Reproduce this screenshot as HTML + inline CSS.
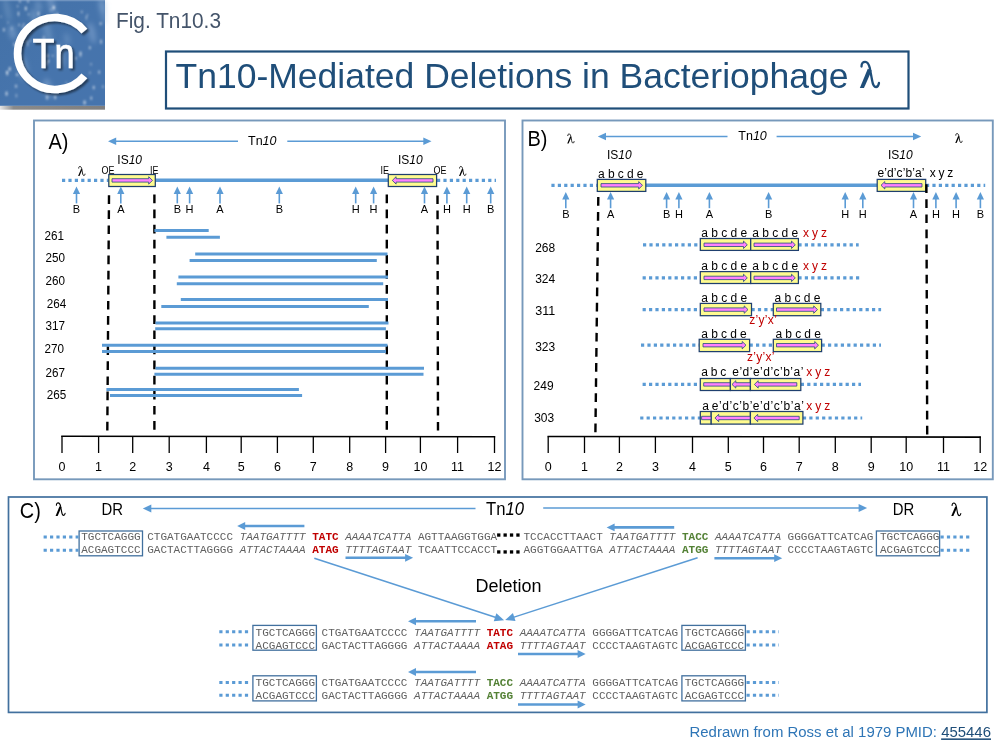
<!DOCTYPE html>
<html><head><meta charset="utf-8"><style>
html,body{margin:0;padding:0;background:#fff;width:1000px;height:750px;overflow:hidden}
svg{display:block;will-change:transform}
</style></head><body>
<svg width="1000" height="750" viewBox="0 0 1000 750">
<rect x="0" y="0" width="1000" height="750" fill="#fff"/>
<defs>
<linearGradient id="lg" x1="0" y1="0" x2="1" y2="1">
<stop offset="0" stop-color="#4371a7"/><stop offset="0.5" stop-color="#4674ac"/><stop offset="1" stop-color="#4674ad"/>
</linearGradient>
<filter id="sh" x="-20%" y="-20%" width="140%" height="140%"><feGaussianBlur in="SourceAlpha" stdDeviation="1.2"/><feOffset dx="1.5" dy="1.5"/><feComponentTransfer><feFuncA type="linear" slope="0.5"/></feComponentTransfer><feMerge><feMergeNode/><feMergeNode in="SourceGraphic"/></feMerge></filter>
</defs>
<linearGradient id="gb" x1="0" y1="0" x2="1" y2="0"><stop offset="0" stop-color="#e6e6e6"/><stop offset="0.13" stop-color="#8a8a8a"/><stop offset="1" stop-color="#7f7f7f"/></linearGradient>
<filter id="bl" x="-50%" y="-50%" width="200%" height="200%"><feGaussianBlur stdDeviation="0.9"/></filter>
<filter id="bl2" x="-50%" y="-50%" width="200%" height="200%"><feGaussianBlur stdDeviation="2.5"/></filter>
<rect x="0" y="105.6" width="105" height="4.1" fill="url(#gb)"/>
<rect x="0" y="0" width="105" height="105.8" fill="url(#lg)"/>
<rect x="0" y="0" width="105" height="1.3" fill="#6f93bf"/>
<g filter="url(#bl2)">
<ellipse cx="34" cy="15.84" rx="3.3" ry="6.58" fill="#9fbde0" opacity="0.38" transform="rotate(-12 34 15.84)"/>
<ellipse cx="38.4" cy="6.09" rx="3.01" ry="6.3" fill="#9fbde0" opacity="0.36" transform="rotate(-12 38.4 6.09)"/>
<ellipse cx="7.33" cy="9.52" rx="2.85" ry="12.61" fill="#9fbde0" opacity="0.28" transform="rotate(-12 7.33 9.52)"/>
<ellipse cx="23.44" cy="65.88" rx="3.9" ry="10.62" fill="#9fbde0" opacity="0.35" transform="rotate(-12 23.44 65.88)"/>
<ellipse cx="102.51" cy="4.89" rx="3.72" ry="8.32" fill="#9fbde0" opacity="0.29" transform="rotate(-12 102.51 4.89)"/>
<ellipse cx="12.37" cy="32.39" rx="3.63" ry="7.45" fill="#9fbde0" opacity="0.4" transform="rotate(-12 12.37 32.39)"/>
<ellipse cx="67.09" cy="39.1" rx="3.1" ry="6.5" fill="#9fbde0" opacity="0.26" transform="rotate(-12 67.09 39.1)"/>
<ellipse cx="21.63" cy="71.44" rx="2.86" ry="8.51" fill="#9fbde0" opacity="0.4" transform="rotate(-12 21.63 71.44)"/>
<ellipse cx="47.58" cy="31.48" rx="3.59" ry="11.59" fill="#9fbde0" opacity="0.31" transform="rotate(-12 47.58 31.48)"/>
<ellipse cx="60.31" cy="55.15" rx="3.75" ry="11.84" fill="#9fbde0" opacity="0.32" transform="rotate(-12 60.31 55.15)"/>
<ellipse cx="102.92" cy="12.4" rx="2.84" ry="12.06" fill="#9fbde0" opacity="0.29" transform="rotate(-12 102.92 12.4)"/>
<ellipse cx="51.34" cy="4.12" rx="3.34" ry="12.12" fill="#9fbde0" opacity="0.39" transform="rotate(-12 51.34 4.12)"/>
<ellipse cx="91.93" cy="32.94" rx="3.39" ry="10.75" fill="#9fbde0" opacity="0.39" transform="rotate(-12 91.93 32.94)"/>
<ellipse cx="47.9" cy="88.2" rx="3.89" ry="9.79" fill="#9fbde0" opacity="0.42" transform="rotate(-12 47.9 88.2)"/>
</g><g filter="url(#bl)">
<ellipse cx="7.25" cy="73.25" rx="0.99" ry="2.49" fill="#ffffff" opacity="0.63"/>
<ellipse cx="30.31" cy="40.74" rx="1" ry="1.03" fill="#ffffff" opacity="0.48"/>
<ellipse cx="18.31" cy="13.06" rx="0.64" ry="2.15" fill="#ffffff" opacity="0.35"/>
<ellipse cx="26.5" cy="41.27" rx="1.12" ry="1.12" fill="#ffffff" opacity="0.48"/>
<ellipse cx="57.59" cy="91.99" rx="1.09" ry="2.3" fill="#ffffff" opacity="0.41"/>
<ellipse cx="43.78" cy="37.95" rx="1.13" ry="2.44" fill="#ffffff" opacity="0.36"/>
<ellipse cx="19.15" cy="24.89" rx="0.74" ry="1.73" fill="#ffffff" opacity="0.54"/>
<ellipse cx="28.06" cy="1.42" rx="0.85" ry="1.55" fill="#ffffff" opacity="0.53"/>
<ellipse cx="99.17" cy="72.12" rx="0.91" ry="1.93" fill="#ffffff" opacity="0.57"/>
<ellipse cx="6.56" cy="93.65" rx="1.07" ry="2.31" fill="#ffffff" opacity="0.62"/>
<ellipse cx="41.42" cy="42.09" rx="0.66" ry="1.95" fill="#ffffff" opacity="0.32"/>
<ellipse cx="7.94" cy="22.5" rx="0.7" ry="1.51" fill="#ffffff" opacity="0.32"/>
<ellipse cx="1.02" cy="16.58" rx="0.66" ry="1.55" fill="#ffffff" opacity="0.31"/>
<ellipse cx="91.06" cy="64.25" rx="0.69" ry="1.38" fill="#ffffff" opacity="0.44"/>
<ellipse cx="38.51" cy="13.65" rx="1.11" ry="2.49" fill="#ffffff" opacity="0.49"/>
<ellipse cx="50.83" cy="9.85" rx="0.66" ry="1.51" fill="#ffffff" opacity="0.41"/>
<ellipse cx="86.37" cy="17.63" rx="0.61" ry="2.43" fill="#ffffff" opacity="0.51"/>
<ellipse cx="16.1" cy="56.95" rx="0.62" ry="1.79" fill="#ffffff" opacity="0.69"/>
<ellipse cx="89.92" cy="72.71" rx="0.76" ry="1.55" fill="#ffffff" opacity="0.37"/>
<ellipse cx="80.51" cy="55.86" rx="1.07" ry="1.49" fill="#ffffff" opacity="0.39"/>
<ellipse cx="84.59" cy="102.45" rx="1.11" ry="2.21" fill="#ffffff" opacity="0.63"/>
<ellipse cx="77.21" cy="24.35" rx="0.91" ry="1.53" fill="#ffffff" opacity="0.31"/>
<ellipse cx="3.88" cy="29.78" rx="0.76" ry="2.04" fill="#ffffff" opacity="0.68"/>
<ellipse cx="47.06" cy="97.51" rx="1.19" ry="2.43" fill="#ffffff" opacity="0.45"/>
<ellipse cx="23.71" cy="24.37" rx="0.72" ry="1.31" fill="#ffffff" opacity="0.55"/>
<ellipse cx="93.73" cy="87.56" rx="0.89" ry="1.98" fill="#ffffff" opacity="0.62"/>
<ellipse cx="9.73" cy="69.04" rx="1.15" ry="2.17" fill="#ffffff" opacity="0.6"/>
<ellipse cx="50.24" cy="19.39" rx="1.07" ry="1.5" fill="#ffffff" opacity="0.62"/>
<ellipse cx="101.08" cy="41.77" rx="0.84" ry="2.42" fill="#ffffff" opacity="0.59"/>
<ellipse cx="18.51" cy="14.08" rx="0.69" ry="2.36" fill="#ffffff" opacity="0.62"/>
<ellipse cx="16.06" cy="86.13" rx="1.19" ry="1.99" fill="#ffffff" opacity="0.44"/>
<ellipse cx="57.51" cy="14.49" rx="0.61" ry="2.46" fill="#ffffff" opacity="0.56"/>
<ellipse cx="55.24" cy="97.16" rx="0.86" ry="2.31" fill="#ffffff" opacity="0.63"/>
<ellipse cx="22.74" cy="26.94" rx="0.78" ry="1.36" fill="#ffffff" opacity="0.53"/>
<ellipse cx="27.71" cy="44.16" rx="0.68" ry="2.37" fill="#ffffff" opacity="0.44"/>
<ellipse cx="48.19" cy="61.08" rx="1.14" ry="1.63" fill="#ffffff" opacity="0.67"/>
<ellipse cx="52.67" cy="55.78" rx="0.91" ry="1.03" fill="#ffffff" opacity="0.48"/>
<ellipse cx="19.86" cy="1.41" rx="1.08" ry="1.26" fill="#ffffff" opacity="0.49"/>
<ellipse cx="75.69" cy="58.32" rx="0.8" ry="1.78" fill="#ffffff" opacity="0.52"/>
<ellipse cx="81.78" cy="11.93" rx="0.94" ry="1.37" fill="#ffffff" opacity="0.41"/>
<ellipse cx="80.54" cy="53.29" rx="0.94" ry="2.14" fill="#ffffff" opacity="0.66"/>
<ellipse cx="46.65" cy="64.09" rx="0.9" ry="1.77" fill="#ffffff" opacity="0.58"/>
<ellipse cx="47.59" cy="55.93" rx="0.89" ry="2.41" fill="#ffffff" opacity="0.58"/>
<ellipse cx="91.28" cy="98.04" rx="0.76" ry="1.84" fill="#ffffff" opacity="0.68"/>
<ellipse cx="87.52" cy="15.12" rx="0.67" ry="1.66" fill="#ffffff" opacity="0.33"/>
<ellipse cx="25.79" cy="8.53" rx="1" ry="2.18" fill="#ffffff" opacity="0.66"/>
<ellipse cx="16.91" cy="74.76" rx="1" ry="1.21" fill="#ffffff" opacity="0.65"/>
<ellipse cx="100.66" cy="23.62" rx="1.17" ry="1.6" fill="#ffffff" opacity="0.49"/>
<ellipse cx="102.96" cy="86.74" rx="0.7" ry="1.65" fill="#ffffff" opacity="0.51"/>
<ellipse cx="35.93" cy="21.16" rx="0.79" ry="2.08" fill="#ffffff" opacity="0.31"/>
<ellipse cx="58.07" cy="46.37" rx="0.61" ry="1.5" fill="#ffffff" opacity="0.55"/>
<ellipse cx="53.76" cy="7.62" rx="1.19" ry="2.18" fill="#ffffff" opacity="0.69"/>
<ellipse cx="11.79" cy="28.35" rx="0.62" ry="2.17" fill="#ffffff" opacity="0.41"/>
<ellipse cx="14.34" cy="44.49" rx="1.15" ry="2.23" fill="#ffffff" opacity="0.4"/>
<ellipse cx="16.38" cy="95.67" rx="0.94" ry="2.05" fill="#ffffff" opacity="0.34"/>
<ellipse cx="6.93" cy="71.89" rx="0.86" ry="1.11" fill="#ffffff" opacity="0.68"/>
<ellipse cx="66.35" cy="83.57" rx="0.65" ry="2.28" fill="#ffffff" opacity="0.33"/>
<ellipse cx="89.87" cy="47.74" rx="0.8" ry="1.83" fill="#ffffff" opacity="0.67"/>
<ellipse cx="28.59" cy="14.31" rx="0.92" ry="1.36" fill="#ffffff" opacity="0.34"/>
<ellipse cx="17.63" cy="6.19" rx="0.72" ry="1.47" fill="#ffffff" opacity="0.42"/>
</g>
<path d="M84.35,31.09 A37.5,36 0 1 0 84.35,75.91" fill="none" stroke="#ffffff" stroke-width="7.6" filter="url(#sh)"/>
<text x="32.6" y="68.2" font-size="43.3" fill="#ffffff" font-family="'Liberation Sans', sans-serif" textLength="42" lengthAdjust="spacingAndGlyphs" filter="url(#sh)" stroke="#fff" stroke-width="0.7">Tn</text>
<text x="116" y="28" font-size="21.5" fill="#44546a" font-family="'Liberation Sans', sans-serif" textLength="105" lengthAdjust="spacingAndGlyphs" >Fig. Tn10.3</text>
<rect x="166" y="51.5" width="742.5" height="57" fill="none" stroke="#1f4e79" stroke-width="2.2"/>
<text x="175.5" y="88" font-size="34.5" fill="#1f4e79" font-family="'Liberation Sans', sans-serif" textLength="673" lengthAdjust="spacingAndGlyphs" >Tn10-Mediated Deletions in Bacteriophage</text>
<g transform="translate(859.9,60.9) scale(1.0037)">
<polygon points="7.85,7.8 11.75,9.6 4.05,27 -0.05,27" fill="#1f4e79"/>
<path d="M1.6,5.6 C1.5,2.0 3.5,0.9 5.2,0.9 C7.6,0.9 9.0,3.5 9.9,7.2 L12.1,19.0 C12.8,23.4 14.2,26 16.0,26 C17.7,26 18.6,24.3 19.0,22" fill="none" stroke="#1f4e79" stroke-width="2.3" stroke-linecap="round"/>
</g>
<rect x="34" y="120.5" width="471" height="358.8" fill="none" stroke="#7799bb" stroke-width="1.9"/>
<text x="48.5" y="148.7" font-size="22.5" fill="#000" font-family="'Liberation Sans', sans-serif" textLength="20" lengthAdjust="spacingAndGlyphs" >A)</text>
<line x1="238" y1="141.3" x2="115.2" y2="141.3" stroke="#5b9bd5" stroke-width="1.5"/>
<polygon points="108,141.3 116.2,137.5 116.2,145.1" fill="#5b9bd5"/>
<line x1="287.3" y1="141.3" x2="424.3" y2="141.3" stroke="#5b9bd5" stroke-width="1.5"/>
<polygon points="431.5,141.3 423.3,145.1 423.3,137.5" fill="#5b9bd5"/>
<text x="248" y="145" font-size="12.5" font-family="'Liberation Sans', sans-serif" fill="#000">Tn<tspan font-style="italic">10</tspan></text>
<line x1="62" y1="180.3" x2="108.5" y2="180.3" stroke="#5b9bd5" stroke-width="3.2" stroke-dasharray="3.2 3.2"/>
<line x1="155.5" y1="180.3" x2="388.3" y2="180.3" stroke="#5b9bd5" stroke-width="3.5"/>
<line x1="437" y1="180.3" x2="496" y2="180.3" stroke="#5b9bd5" stroke-width="3.2" stroke-dasharray="3.2 3.2"/>
<rect x="108.8" y="174.5" width="46.5" height="12" fill="#fffb8f" stroke="#1f3f6e" stroke-width="1.25"/>
<rect x="388.3" y="174.5" width="48.3" height="12" fill="#fffb8f" stroke="#1f3f6e" stroke-width="1.25"/>
<polygon points="112,178.7 148.7,178.7 148.7,176.7 152.5,180.4 148.7,184.1 148.7,182.1 112,182.1" fill="#ff80ff" stroke="#1f4e79" stroke-width="0.8" stroke-linejoin="miter"/>
<polygon points="433,178.7 396.1,178.7 396.1,176.7 392.3,180.4 396.1,184.1 396.1,182.1 433,182.1" fill="#ff80ff" stroke="#1f4e79" stroke-width="0.8" stroke-linejoin="miter"/>
<text x="101.5" y="173.8" font-size="10.2" fill="#000" font-family="'Liberation Sans', sans-serif" textLength="13" lengthAdjust="spacingAndGlyphs" >OE</text>
<text x="150" y="173.8" font-size="10.2" fill="#000" font-family="'Liberation Sans', sans-serif" textLength="8.5" lengthAdjust="spacingAndGlyphs" >IE</text>
<text x="380.5" y="173.8" font-size="10.2" fill="#000" font-family="'Liberation Sans', sans-serif" textLength="8.5" lengthAdjust="spacingAndGlyphs" >IE</text>
<text x="433.5" y="173.8" font-size="10.2" fill="#000" font-family="'Liberation Sans', sans-serif" textLength="13" lengthAdjust="spacingAndGlyphs" >OE</text>
<text x="117.3" y="163.7" font-size="12" font-family="'Liberation Sans', sans-serif" fill="#000">IS<tspan font-style="italic">10</tspan></text>
<text x="398" y="163.7" font-size="12" font-family="'Liberation Sans', sans-serif" fill="#000">IS<tspan font-style="italic">10</tspan></text>
<g transform="translate(78.1,166.1) scale(0.3630)">
<polygon points="8.05,7.8 11.56,9.6 3.84,27 0.16,27" fill="#000"/>
<path d="M1.6,5.6 C1.5,2.0 3.5,0.9 5.2,0.9 C7.6,0.9 9.0,3.5 9.9,7.2 L12.1,19.0 C12.8,23.4 14.2,26 16.0,26 C17.7,26 18.6,24.3 19.0,22" fill="none" stroke="#000" stroke-width="2.4" stroke-linecap="round"/>
</g>
<g transform="translate(459,166.1) scale(0.3630)">
<polygon points="8.05,7.8 11.56,9.6 3.84,27 0.16,27" fill="#000"/>
<path d="M1.6,5.6 C1.5,2.0 3.5,0.9 5.2,0.9 C7.6,0.9 9.0,3.5 9.9,7.2 L12.1,19.0 C12.8,23.4 14.2,26 16.0,26 C17.7,26 18.6,24.3 19.0,22" fill="none" stroke="#000" stroke-width="2.4" stroke-linecap="round"/>
</g>
<polygon points="76.5,186.6 80.1,194.1 72.9,194.1" fill="#5b9bd5"/>
<line x1="76.5" y1="193.6" x2="76.5" y2="203.4" stroke="#5b9bd5" stroke-width="1.6"/>
<text x="76.5" y="213" font-size="11" fill="#000" font-family="'Liberation Sans', sans-serif" text-anchor="middle" >B</text>
<polygon points="120.8,186.6 124.4,194.1 117.2,194.1" fill="#5b9bd5"/>
<line x1="120.8" y1="193.6" x2="120.8" y2="203.4" stroke="#5b9bd5" stroke-width="1.6"/>
<text x="120.8" y="213" font-size="11" fill="#000" font-family="'Liberation Sans', sans-serif" text-anchor="middle" >A</text>
<polygon points="177.3,186.6 180.9,194.1 173.7,194.1" fill="#5b9bd5"/>
<line x1="177.3" y1="193.6" x2="177.3" y2="203.4" stroke="#5b9bd5" stroke-width="1.6"/>
<text x="177.3" y="213" font-size="11" fill="#000" font-family="'Liberation Sans', sans-serif" text-anchor="middle" >B</text>
<polygon points="189.6,186.6 193.2,194.1 186,194.1" fill="#5b9bd5"/>
<line x1="189.6" y1="193.6" x2="189.6" y2="203.4" stroke="#5b9bd5" stroke-width="1.6"/>
<text x="189.6" y="213" font-size="11" fill="#000" font-family="'Liberation Sans', sans-serif" text-anchor="middle" >H</text>
<polygon points="220,186.6 223.6,194.1 216.4,194.1" fill="#5b9bd5"/>
<line x1="220" y1="193.6" x2="220" y2="203.4" stroke="#5b9bd5" stroke-width="1.6"/>
<text x="220" y="213" font-size="11" fill="#000" font-family="'Liberation Sans', sans-serif" text-anchor="middle" >A</text>
<polygon points="279.3,186.6 282.9,194.1 275.7,194.1" fill="#5b9bd5"/>
<line x1="279.3" y1="193.6" x2="279.3" y2="203.4" stroke="#5b9bd5" stroke-width="1.6"/>
<text x="279.3" y="213" font-size="11" fill="#000" font-family="'Liberation Sans', sans-serif" text-anchor="middle" >B</text>
<polygon points="355.7,186.6 359.3,194.1 352.1,194.1" fill="#5b9bd5"/>
<line x1="355.7" y1="193.6" x2="355.7" y2="203.4" stroke="#5b9bd5" stroke-width="1.6"/>
<text x="355.7" y="213" font-size="11" fill="#000" font-family="'Liberation Sans', sans-serif" text-anchor="middle" >H</text>
<polygon points="373.6,186.6 377.2,194.1 370,194.1" fill="#5b9bd5"/>
<line x1="373.6" y1="193.6" x2="373.6" y2="203.4" stroke="#5b9bd5" stroke-width="1.6"/>
<text x="373.6" y="213" font-size="11" fill="#000" font-family="'Liberation Sans', sans-serif" text-anchor="middle" >H</text>
<polygon points="424.5,186.6 428.1,194.1 420.9,194.1" fill="#5b9bd5"/>
<line x1="424.5" y1="193.6" x2="424.5" y2="203.4" stroke="#5b9bd5" stroke-width="1.6"/>
<text x="424.5" y="213" font-size="11" fill="#000" font-family="'Liberation Sans', sans-serif" text-anchor="middle" >A</text>
<polygon points="446.9,186.6 450.5,194.1 443.3,194.1" fill="#5b9bd5"/>
<line x1="446.9" y1="193.6" x2="446.9" y2="203.4" stroke="#5b9bd5" stroke-width="1.6"/>
<text x="446.9" y="213" font-size="11" fill="#000" font-family="'Liberation Sans', sans-serif" text-anchor="middle" >H</text>
<polygon points="466.7,186.6 470.3,194.1 463.1,194.1" fill="#5b9bd5"/>
<line x1="466.7" y1="193.6" x2="466.7" y2="203.4" stroke="#5b9bd5" stroke-width="1.6"/>
<text x="466.7" y="213" font-size="11" fill="#000" font-family="'Liberation Sans', sans-serif" text-anchor="middle" >H</text>
<polygon points="490.7,186.6 494.3,194.1 487.1,194.1" fill="#5b9bd5"/>
<line x1="490.7" y1="193.6" x2="490.7" y2="203.4" stroke="#5b9bd5" stroke-width="1.6"/>
<text x="490.7" y="213" font-size="11" fill="#000" font-family="'Liberation Sans', sans-serif" text-anchor="middle" >B</text>
<line x1="109" y1="195.2" x2="107.3" y2="432" stroke="#000" stroke-width="2.4" stroke-dasharray="8.7 6.4" stroke-dashoffset="0"/>
<line x1="154.4" y1="194.5" x2="154.4" y2="432" stroke="#000" stroke-width="2.4" stroke-dasharray="8.7 6.4" stroke-dashoffset="0"/>
<line x1="386.8" y1="194.5" x2="386.8" y2="432" stroke="#000" stroke-width="2.4" stroke-dasharray="8.7 6.4" stroke-dashoffset="0"/>
<line x1="437.5" y1="195.4" x2="438" y2="432" stroke="#000" stroke-width="2.4" stroke-dasharray="8.7 6.4" stroke-dashoffset="0"/>
<text x="44.5" y="240" font-size="12.5" fill="#000" font-family="'Liberation Sans', sans-serif" textLength="19.5" lengthAdjust="spacingAndGlyphs" >261</text>
<line x1="154.4" y1="230.4" x2="208.7" y2="230.4" stroke="#5b9bd5" stroke-width="3"/>
<line x1="166.4" y1="237.2" x2="219.9" y2="237.2" stroke="#5b9bd5" stroke-width="3"/>
<text x="45.6" y="262" font-size="12.5" fill="#000" font-family="'Liberation Sans', sans-serif" textLength="19.5" lengthAdjust="spacingAndGlyphs" >250</text>
<line x1="195.2" y1="254.1" x2="387.5" y2="254.1" stroke="#5b9bd5" stroke-width="3"/>
<line x1="189.6" y1="260.6" x2="376.8" y2="260.6" stroke="#5b9bd5" stroke-width="3"/>
<text x="45.6" y="284.8" font-size="12.5" fill="#000" font-family="'Liberation Sans', sans-serif" textLength="19.5" lengthAdjust="spacingAndGlyphs" >260</text>
<line x1="178.4" y1="277" x2="388" y2="277" stroke="#5b9bd5" stroke-width="3"/>
<line x1="176.8" y1="283.7" x2="383.2" y2="283.7" stroke="#5b9bd5" stroke-width="3"/>
<text x="46.7" y="307.7" font-size="12.5" fill="#000" font-family="'Liberation Sans', sans-serif" textLength="19.5" lengthAdjust="spacingAndGlyphs" >264</text>
<line x1="180.8" y1="299.5" x2="388" y2="299.5" stroke="#5b9bd5" stroke-width="3"/>
<line x1="161.3" y1="306.6" x2="368.8" y2="306.6" stroke="#5b9bd5" stroke-width="3"/>
<text x="45.6" y="330" font-size="12.5" fill="#000" font-family="'Liberation Sans', sans-serif" textLength="19.5" lengthAdjust="spacingAndGlyphs" >317</text>
<line x1="155.5" y1="323" x2="388.5" y2="323" stroke="#5b9bd5" stroke-width="3"/>
<line x1="155.2" y1="328.8" x2="385.9" y2="328.8" stroke="#5b9bd5" stroke-width="3"/>
<text x="44.5" y="352.9" font-size="12.5" fill="#000" font-family="'Liberation Sans', sans-serif" textLength="19.5" lengthAdjust="spacingAndGlyphs" >270</text>
<line x1="102" y1="345.2" x2="387.5" y2="345.2" stroke="#5b9bd5" stroke-width="3"/>
<line x1="102" y1="351.6" x2="385.9" y2="351.6" stroke="#5b9bd5" stroke-width="3"/>
<text x="45.6" y="376.9" font-size="12.5" fill="#000" font-family="'Liberation Sans', sans-serif" textLength="19.5" lengthAdjust="spacingAndGlyphs" >267</text>
<line x1="155.5" y1="368.3" x2="424" y2="368.3" stroke="#5b9bd5" stroke-width="3"/>
<line x1="154.4" y1="374.3" x2="423.5" y2="374.3" stroke="#5b9bd5" stroke-width="3"/>
<text x="46.7" y="398.8" font-size="12.5" fill="#000" font-family="'Liberation Sans', sans-serif" textLength="19.5" lengthAdjust="spacingAndGlyphs" >265</text>
<line x1="106.4" y1="389.6" x2="298.9" y2="389.6" stroke="#5b9bd5" stroke-width="3"/>
<line x1="110" y1="395.6" x2="302.1" y2="395.6" stroke="#5b9bd5" stroke-width="3"/>
<line x1="61.2" y1="436.2" x2="495.2" y2="436.8" stroke="#000" stroke-width="1.6"/>
<line x1="62" y1="436.2" x2="62" y2="453" stroke="#000" stroke-width="1.3"/>
<text x="62" y="471.2" font-size="12.5" fill="#000" font-family="'Liberation Sans', sans-serif" text-anchor="middle" >0</text>
<line x1="98.6" y1="436.2" x2="98.6" y2="453" stroke="#000" stroke-width="1.3"/>
<text x="98.6" y="471.2" font-size="12.5" fill="#000" font-family="'Liberation Sans', sans-serif" text-anchor="middle" >1</text>
<line x1="132.7" y1="436.2" x2="132.7" y2="453" stroke="#000" stroke-width="1.3"/>
<text x="132.7" y="471.2" font-size="12.5" fill="#000" font-family="'Liberation Sans', sans-serif" text-anchor="middle" >2</text>
<line x1="169.2" y1="436.2" x2="169.2" y2="453" stroke="#000" stroke-width="1.3"/>
<text x="169.2" y="471.2" font-size="12.5" fill="#000" font-family="'Liberation Sans', sans-serif" text-anchor="middle" >3</text>
<line x1="206.4" y1="436.2" x2="206.4" y2="453" stroke="#000" stroke-width="1.3"/>
<text x="206.4" y="471.2" font-size="12.5" fill="#000" font-family="'Liberation Sans', sans-serif" text-anchor="middle" >4</text>
<line x1="241.2" y1="436.2" x2="241.2" y2="453" stroke="#000" stroke-width="1.3"/>
<text x="241.2" y="471.2" font-size="12.5" fill="#000" font-family="'Liberation Sans', sans-serif" text-anchor="middle" >5</text>
<line x1="277.4" y1="436.2" x2="277.4" y2="453" stroke="#000" stroke-width="1.3"/>
<text x="277.4" y="471.2" font-size="12.5" fill="#000" font-family="'Liberation Sans', sans-serif" text-anchor="middle" >6</text>
<line x1="313.3" y1="436.2" x2="313.3" y2="453" stroke="#000" stroke-width="1.3"/>
<text x="313.3" y="471.2" font-size="12.5" fill="#000" font-family="'Liberation Sans', sans-serif" text-anchor="middle" >7</text>
<line x1="349.7" y1="436.2" x2="349.7" y2="453" stroke="#000" stroke-width="1.3"/>
<text x="349.7" y="471.2" font-size="12.5" fill="#000" font-family="'Liberation Sans', sans-serif" text-anchor="middle" >8</text>
<line x1="385.6" y1="436.2" x2="385.6" y2="453" stroke="#000" stroke-width="1.3"/>
<text x="385.6" y="471.2" font-size="12.5" fill="#000" font-family="'Liberation Sans', sans-serif" text-anchor="middle" >9</text>
<line x1="420.4" y1="436.2" x2="420.4" y2="453" stroke="#000" stroke-width="1.3"/>
<text x="420.4" y="471.2" font-size="12.5" fill="#000" font-family="'Liberation Sans', sans-serif" text-anchor="middle" >10</text>
<line x1="457.6" y1="436.2" x2="457.6" y2="453" stroke="#000" stroke-width="1.3"/>
<text x="457.6" y="471.2" font-size="12.5" fill="#000" font-family="'Liberation Sans', sans-serif" text-anchor="middle" >11</text>
<line x1="494.5" y1="436.2" x2="494.5" y2="453" stroke="#000" stroke-width="1.3"/>
<text x="494.5" y="471.2" font-size="12.5" fill="#000" font-family="'Liberation Sans', sans-serif" text-anchor="middle" >12</text>
<rect x="522.5" y="120.5" width="470.3" height="358.8" fill="none" stroke="#7799bb" stroke-width="1.9"/>
<text x="527.5" y="145.8" font-size="22.5" fill="#000" font-family="'Liberation Sans', sans-serif" textLength="20" lengthAdjust="spacingAndGlyphs" >B)</text>
<g transform="translate(567.2,133.6) scale(0.3630)">
<polygon points="8.05,7.8 11.56,9.6 3.84,27 0.16,27" fill="#000"/>
<path d="M1.6,5.6 C1.5,2.0 3.5,0.9 5.2,0.9 C7.6,0.9 9.0,3.5 9.9,7.2 L12.1,19.0 C12.8,23.4 14.2,26 16.0,26 C17.7,26 18.6,24.3 19.0,22" fill="none" stroke="#000" stroke-width="2.4" stroke-linecap="round"/>
</g>
<g transform="translate(955.2,133.2) scale(0.3630)">
<polygon points="8.05,7.8 11.56,9.6 3.84,27 0.16,27" fill="#000"/>
<path d="M1.6,5.6 C1.5,2.0 3.5,0.9 5.2,0.9 C7.6,0.9 9.0,3.5 9.9,7.2 L12.1,19.0 C12.8,23.4 14.2,26 16.0,26 C17.7,26 18.6,24.3 19.0,22" fill="none" stroke="#000" stroke-width="2.4" stroke-linecap="round"/>
</g>
<line x1="727.5" y1="136.5" x2="605" y2="136.5" stroke="#5b9bd5" stroke-width="1.5"/>
<polygon points="597.8,136.5 606,132.7 606,140.3" fill="#5b9bd5"/>
<line x1="776.6" y1="136.5" x2="914" y2="136.5" stroke="#5b9bd5" stroke-width="1.5"/>
<polygon points="921.2,136.5 913,140.3 913,132.7" fill="#5b9bd5"/>
<text x="738.3" y="140.2" font-size="12.5" font-family="'Liberation Sans', sans-serif" fill="#000">Tn<tspan font-style="italic">10</tspan></text>
<text x="607" y="158.6" font-size="12" font-family="'Liberation Sans', sans-serif" fill="#000">IS<tspan font-style="italic">10</tspan></text>
<text x="888" y="158.6" font-size="12" font-family="'Liberation Sans', sans-serif" fill="#000">IS<tspan font-style="italic">10</tspan></text>
<line x1="551.4" y1="185.3" x2="597.5" y2="185.3" stroke="#5b9bd5" stroke-width="3.2" stroke-dasharray="3.2 3.2"/>
<line x1="645.8" y1="185.3" x2="877.2" y2="185.3" stroke="#5b9bd5" stroke-width="3.5"/>
<line x1="926" y1="185.3" x2="985.2" y2="185.3" stroke="#5b9bd5" stroke-width="3.2" stroke-dasharray="3.2 3.2"/>
<rect x="597.3" y="179.4" width="48.5" height="12" fill="#fffb8f" stroke="#1f3f6e" stroke-width="1.25"/>
<rect x="877.2" y="179.4" width="48.5" height="12" fill="#fffb8f" stroke="#1f3f6e" stroke-width="1.25"/>
<polygon points="601,183.6 638.7,183.6 638.7,181.6 642.5,185.3 638.7,189 638.7,187 601,187" fill="#ff80ff" stroke="#1f4e79" stroke-width="0.8" stroke-linejoin="miter"/>
<polygon points="922,183.6 884.8,183.6 884.8,181.6 881,185.3 884.8,189 884.8,187 922,187" fill="#ff80ff" stroke="#1f4e79" stroke-width="0.8" stroke-linejoin="miter"/>
<text x="598" y="177.8" font-size="12" fill="#000" font-family="'Liberation Sans', sans-serif" textLength="45.5" lengthAdjust="spacing" >a b c d e</text>
<text x="877.5" y="177.2" font-size="12" fill="#000" font-family="'Liberation Sans', sans-serif" textLength="47" lengthAdjust="spacing" >e&#8217;d&#8217;c&#8217;b&#8217;a&#8217;</text>
<text x="929.8" y="177.2" font-size="12" fill="#000" font-family="'Liberation Sans', sans-serif" textLength="23.5" lengthAdjust="spacing" >x y z</text>
<polygon points="565.8,191.9 569.4,199.4 562.2,199.4" fill="#5b9bd5"/>
<line x1="565.8" y1="198.9" x2="565.8" y2="208.2" stroke="#5b9bd5" stroke-width="1.6"/>
<text x="565.8" y="218" font-size="11" fill="#000" font-family="'Liberation Sans', sans-serif" text-anchor="middle" >B</text>
<polygon points="610.6,191.9 614.2,199.4 607,199.4" fill="#5b9bd5"/>
<line x1="610.6" y1="198.9" x2="610.6" y2="208.2" stroke="#5b9bd5" stroke-width="1.6"/>
<text x="610.6" y="218" font-size="11" fill="#000" font-family="'Liberation Sans', sans-serif" text-anchor="middle" >A</text>
<polygon points="666.6,191.9 670.2,199.4 663,199.4" fill="#5b9bd5"/>
<line x1="666.6" y1="198.9" x2="666.6" y2="208.2" stroke="#5b9bd5" stroke-width="1.6"/>
<text x="666.6" y="218" font-size="11" fill="#000" font-family="'Liberation Sans', sans-serif" text-anchor="middle" >B</text>
<polygon points="678.9,191.9 682.5,199.4 675.3,199.4" fill="#5b9bd5"/>
<line x1="678.9" y1="198.9" x2="678.9" y2="208.2" stroke="#5b9bd5" stroke-width="1.6"/>
<text x="678.9" y="218" font-size="11" fill="#000" font-family="'Liberation Sans', sans-serif" text-anchor="middle" >H</text>
<polygon points="709.4,191.9 713,199.4 705.8,199.4" fill="#5b9bd5"/>
<line x1="709.4" y1="198.9" x2="709.4" y2="208.2" stroke="#5b9bd5" stroke-width="1.6"/>
<text x="709.4" y="218" font-size="11" fill="#000" font-family="'Liberation Sans', sans-serif" text-anchor="middle" >A</text>
<polygon points="768.6,191.9 772.2,199.4 765,199.4" fill="#5b9bd5"/>
<line x1="768.6" y1="198.9" x2="768.6" y2="208.2" stroke="#5b9bd5" stroke-width="1.6"/>
<text x="768.6" y="218" font-size="11" fill="#000" font-family="'Liberation Sans', sans-serif" text-anchor="middle" >B</text>
<polygon points="845.2,191.9 848.8,199.4 841.6,199.4" fill="#5b9bd5"/>
<line x1="845.2" y1="198.9" x2="845.2" y2="208.2" stroke="#5b9bd5" stroke-width="1.6"/>
<text x="845.2" y="218" font-size="11" fill="#000" font-family="'Liberation Sans', sans-serif" text-anchor="middle" >H</text>
<polygon points="862.8,191.9 866.4,199.4 859.2,199.4" fill="#5b9bd5"/>
<line x1="862.8" y1="198.9" x2="862.8" y2="208.2" stroke="#5b9bd5" stroke-width="1.6"/>
<text x="862.8" y="218" font-size="11" fill="#000" font-family="'Liberation Sans', sans-serif" text-anchor="middle" >H</text>
<polygon points="913.5,191.9 917.1,199.4 909.9,199.4" fill="#5b9bd5"/>
<line x1="913.5" y1="198.9" x2="913.5" y2="208.2" stroke="#5b9bd5" stroke-width="1.6"/>
<text x="913.5" y="218" font-size="11" fill="#000" font-family="'Liberation Sans', sans-serif" text-anchor="middle" >A</text>
<polygon points="935.9,191.9 939.5,199.4 932.3,199.4" fill="#5b9bd5"/>
<line x1="935.9" y1="198.9" x2="935.9" y2="208.2" stroke="#5b9bd5" stroke-width="1.6"/>
<text x="935.9" y="218" font-size="11" fill="#000" font-family="'Liberation Sans', sans-serif" text-anchor="middle" >H</text>
<polygon points="956.1,191.9 959.7,199.4 952.5,199.4" fill="#5b9bd5"/>
<line x1="956.1" y1="198.9" x2="956.1" y2="208.2" stroke="#5b9bd5" stroke-width="1.6"/>
<text x="956.1" y="218" font-size="11" fill="#000" font-family="'Liberation Sans', sans-serif" text-anchor="middle" >H</text>
<polygon points="980.4,191.9 984,199.4 976.8,199.4" fill="#5b9bd5"/>
<line x1="980.4" y1="198.9" x2="980.4" y2="208.2" stroke="#5b9bd5" stroke-width="1.6"/>
<text x="980.4" y="218" font-size="11" fill="#000" font-family="'Liberation Sans', sans-serif" text-anchor="middle" >B</text>
<line x1="598.3" y1="197" x2="595.4" y2="433" stroke="#000" stroke-width="2.4" stroke-dasharray="8.7 6.4" stroke-dashoffset="0"/>
<line x1="926.4" y1="184.2" x2="927.2" y2="435" stroke="#000" stroke-width="2.4" stroke-dasharray="8.7 6.4" stroke-dashoffset="0"/>
<text x="535.2" y="252" font-size="12.5" fill="#000" font-family="'Liberation Sans', sans-serif" textLength="20" lengthAdjust="spacingAndGlyphs" >268</text>
<line x1="643" y1="244.8" x2="700.3" y2="244.8" stroke="#5b9bd5" stroke-width="3.2" stroke-dasharray="3.2 3.2"/>
<line x1="798.4" y1="244.8" x2="858.7" y2="244.8" stroke="#5b9bd5" stroke-width="3.2" stroke-dasharray="3.2 3.2"/>
<rect x="700.3" y="238.5" width="50.4" height="11.9" fill="#fffb8f" stroke="#1f3f6e" stroke-width="1.25"/>
<rect x="750.7" y="238.5" width="47.7" height="11.9" fill="#fffb8f" stroke="#1f3f6e" stroke-width="1.25"/>
<polygon points="704,243.1 743.5,243.1 743.5,241.1 747.3,244.8 743.5,248.5 743.5,246.5 704,246.5" fill="#ff80ff" stroke="#1f4e79" stroke-width="0.8" stroke-linejoin="miter"/>
<polygon points="754,243.1 791.5,243.1 791.5,241.1 795.3,244.8 791.5,248.5 791.5,246.5 754,246.5" fill="#ff80ff" stroke="#1f4e79" stroke-width="0.8" stroke-linejoin="miter"/>
<text x="701.3" y="236.8" font-size="12" fill="#000" font-family="'Liberation Sans', sans-serif" textLength="46" lengthAdjust="spacing" >a b c d e</text>
<text x="752.3" y="236.8" font-size="12" fill="#000" font-family="'Liberation Sans', sans-serif" textLength="46" lengthAdjust="spacing" >a b c d e</text>
<text x="803" y="236.8" font-size="12" fill="#c00000" font-family="'Liberation Sans', sans-serif" textLength="24" lengthAdjust="spacing" >x y z</text>
<text x="535.2" y="282.9" font-size="12.5" fill="#000" font-family="'Liberation Sans', sans-serif" textLength="20" lengthAdjust="spacingAndGlyphs" >324</text>
<line x1="642.6" y1="277.9" x2="700.3" y2="277.9" stroke="#5b9bd5" stroke-width="3.2" stroke-dasharray="3.2 3.2"/>
<line x1="798.4" y1="277.9" x2="859.2" y2="277.9" stroke="#5b9bd5" stroke-width="3.2" stroke-dasharray="3.2 3.2"/>
<rect x="700.3" y="271.6" width="50.4" height="11.9" fill="#fffb8f" stroke="#1f3f6e" stroke-width="1.25"/>
<rect x="750.7" y="271.6" width="47.7" height="11.9" fill="#fffb8f" stroke="#1f3f6e" stroke-width="1.25"/>
<polygon points="704,276.2 743.5,276.2 743.5,274.2 747.3,277.9 743.5,281.6 743.5,279.6 704,279.6" fill="#ff80ff" stroke="#1f4e79" stroke-width="0.8" stroke-linejoin="miter"/>
<polygon points="754,276.2 791.5,276.2 791.5,274.2 795.3,277.9 791.5,281.6 791.5,279.6 754,279.6" fill="#ff80ff" stroke="#1f4e79" stroke-width="0.8" stroke-linejoin="miter"/>
<text x="701.3" y="269.6" font-size="12" fill="#000" font-family="'Liberation Sans', sans-serif" textLength="46" lengthAdjust="spacing" >a b c d e</text>
<text x="752.3" y="269.6" font-size="12" fill="#000" font-family="'Liberation Sans', sans-serif" textLength="46" lengthAdjust="spacing" >a b c d e</text>
<text x="803" y="269.6" font-size="12" fill="#c00000" font-family="'Liberation Sans', sans-serif" textLength="24" lengthAdjust="spacing" >x y z</text>
<text x="535.2" y="314.9" font-size="12.5" fill="#000" font-family="'Liberation Sans', sans-serif" textLength="20" lengthAdjust="spacingAndGlyphs" >311</text>
<line x1="642.6" y1="309.6" x2="700.3" y2="309.6" stroke="#5b9bd5" stroke-width="3.2" stroke-dasharray="3.2 3.2"/>
<line x1="751.5" y1="309.6" x2="773.3" y2="309.6" stroke="#5b9bd5" stroke-width="3.2" stroke-dasharray="3.2 3.2"/>
<line x1="820.8" y1="309.6" x2="881.1" y2="309.6" stroke="#5b9bd5" stroke-width="3.2" stroke-dasharray="3.2 3.2"/>
<rect x="700.3" y="303.4" width="51.2" height="12.3" fill="#fffb8f" stroke="#1f3f6e" stroke-width="1.25"/>
<rect x="773.3" y="303.4" width="47.5" height="12.3" fill="#fffb8f" stroke="#1f3f6e" stroke-width="1.25"/>
<polygon points="704,307.9 744.2,307.9 744.2,305.9 748,309.6 744.2,313.3 744.2,311.3 704,311.3" fill="#ff80ff" stroke="#1f4e79" stroke-width="0.8" stroke-linejoin="miter"/>
<polygon points="776.5,307.9 813.7,307.9 813.7,305.9 817.5,309.6 813.7,313.3 813.7,311.3 776.5,311.3" fill="#ff80ff" stroke="#1f4e79" stroke-width="0.8" stroke-linejoin="miter"/>
<text x="701.3" y="301.6" font-size="12" fill="#000" font-family="'Liberation Sans', sans-serif" textLength="46" lengthAdjust="spacing" >a b c d e</text>
<text x="774.4" y="301.6" font-size="12" fill="#000" font-family="'Liberation Sans', sans-serif" textLength="46" lengthAdjust="spacing" >a b c d e</text>
<text x="749.3" y="324.4" font-size="12" fill="#c00000" font-family="'Liberation Sans', sans-serif" textLength="27.5" lengthAdjust="spacing" >z&#8217;y&#8217;x&#8217;</text>
<text x="535.2" y="350.9" font-size="12.5" fill="#000" font-family="'Liberation Sans', sans-serif" textLength="20" lengthAdjust="spacingAndGlyphs" >323</text>
<line x1="641" y1="345.2" x2="699.2" y2="345.2" stroke="#5b9bd5" stroke-width="3.2" stroke-dasharray="3.2 3.2"/>
<line x1="749.6" y1="345.2" x2="773.3" y2="345.2" stroke="#5b9bd5" stroke-width="3.2" stroke-dasharray="3.2 3.2"/>
<line x1="821.6" y1="345.2" x2="881" y2="345.2" stroke="#5b9bd5" stroke-width="3.2" stroke-dasharray="3.2 3.2"/>
<rect x="699.2" y="339.3" width="50.4" height="12.3" fill="#fffb8f" stroke="#1f3f6e" stroke-width="1.25"/>
<rect x="773.3" y="339.3" width="48.3" height="12.3" fill="#fffb8f" stroke="#1f3f6e" stroke-width="1.25"/>
<polygon points="703,343.5 742.2,343.5 742.2,341.5 746,345.2 742.2,348.9 742.2,346.9 703,346.9" fill="#ff80ff" stroke="#1f4e79" stroke-width="0.8" stroke-linejoin="miter"/>
<polygon points="776.5,343.5 814.7,343.5 814.7,341.5 818.5,345.2 814.7,348.9 814.7,346.9 776.5,346.9" fill="#ff80ff" stroke="#1f4e79" stroke-width="0.8" stroke-linejoin="miter"/>
<text x="701.3" y="337.5" font-size="12" fill="#000" font-family="'Liberation Sans', sans-serif" textLength="45.5" lengthAdjust="spacing" >a b c d e</text>
<text x="775.4" y="337.5" font-size="12" fill="#000" font-family="'Liberation Sans', sans-serif" textLength="45.5" lengthAdjust="spacing" >a b c d e</text>
<text x="747" y="360.9" font-size="12" fill="#c00000" font-family="'Liberation Sans', sans-serif" textLength="27.5" lengthAdjust="spacing" >z&#8217;y&#8217;x&#8217;</text>
<text x="533.6" y="389.9" font-size="12.5" fill="#000" font-family="'Liberation Sans', sans-serif" textLength="20" lengthAdjust="spacingAndGlyphs" >249</text>
<line x1="642.6" y1="384.4" x2="700.3" y2="384.4" stroke="#5b9bd5" stroke-width="3.2" stroke-dasharray="3.2 3.2"/>
<line x1="800.8" y1="384.4" x2="861" y2="384.4" stroke="#5b9bd5" stroke-width="3.2" stroke-dasharray="3.2 3.2"/>
<rect x="700.3" y="378.5" width="30.1" height="12" fill="#fffb8f" stroke="#1f3f6e" stroke-width="1.25"/>
<rect x="730.4" y="378.5" width="20" height="12" fill="#fffb8f" stroke="#1f3f6e" stroke-width="1.25"/>
<rect x="750.4" y="378.5" width="50.4" height="12" fill="#fffb8f" stroke="#1f3f6e" stroke-width="1.25"/>
<polygon points="703.7,382.7 730,382.7 730,386.1 703.7,386.1" fill="#ff80ff" stroke="#1f4e79" stroke-width="0.8" stroke-linejoin="miter"/>
<polygon points="750.2,382.7 735.8,382.7 735.8,380.7 732,384.4 735.8,388.1 735.8,386.1 750.2,386.1" fill="#ff80ff" stroke="#1f4e79" stroke-width="0.8" stroke-linejoin="miter"/>
<polygon points="796.8,382.7 758.2,382.7 758.2,380.7 754.4,384.4 758.2,388.1 758.2,386.1 796.8,386.1" fill="#ff80ff" stroke="#1f4e79" stroke-width="0.8" stroke-linejoin="miter"/>
<text x="701.3" y="376.4" font-size="12" fill="#000" font-family="'Liberation Sans', sans-serif" textLength="25" lengthAdjust="spacing" >a b c</text>
<text x="732.3" y="376.4" font-size="12" fill="#000" font-family="'Liberation Sans', sans-serif" textLength="71" lengthAdjust="spacing" >e&#8217;d&#8217;e&#8217;d&#8217;c&#8217;b&#8217;a&#8217;</text>
<text x="806.2" y="376.4" font-size="12" fill="#c00000" font-family="'Liberation Sans', sans-serif" textLength="24" lengthAdjust="spacing" >x y z</text>
<text x="534.2" y="421.9" font-size="12.5" fill="#000" font-family="'Liberation Sans', sans-serif" textLength="20" lengthAdjust="spacingAndGlyphs" >303</text>
<line x1="640.2" y1="418" x2="700.3" y2="418" stroke="#5b9bd5" stroke-width="3.2" stroke-dasharray="3.2 3.2"/>
<line x1="802.9" y1="418" x2="862.2" y2="418" stroke="#5b9bd5" stroke-width="3.2" stroke-dasharray="3.2 3.2"/>
<rect x="700.3" y="411.5" width="10.9" height="12.6" fill="#fffb8f" stroke="#1f3f6e" stroke-width="1.25"/>
<rect x="711.2" y="411.5" width="39.2" height="12.6" fill="#fffb8f" stroke="#1f3f6e" stroke-width="1.25"/>
<rect x="750.4" y="411.5" width="52.5" height="12.6" fill="#fffb8f" stroke="#1f3f6e" stroke-width="1.25"/>
<polygon points="701.6,416.3 711,416.3 711,419.7 701.6,419.7" fill="#ff80ff" stroke="#1f4e79" stroke-width="0.8" stroke-linejoin="miter"/>
<polygon points="750.2,416.3 718.7,416.3 718.7,414.3 714.9,418 718.7,421.7 718.7,419.7 750.2,419.7" fill="#ff80ff" stroke="#1f4e79" stroke-width="0.8" stroke-linejoin="miter"/>
<polygon points="799.2,416.3 757.7,416.3 757.7,414.3 753.9,418 757.7,421.7 757.7,419.7 799.2,419.7" fill="#ff80ff" stroke="#1f4e79" stroke-width="0.8" stroke-linejoin="miter"/>
<text x="702.2" y="410" font-size="12" fill="#000" font-family="'Liberation Sans', sans-serif" >a</text>
<text x="711.8" y="410" font-size="12" fill="#000" font-family="'Liberation Sans', sans-serif" textLength="92" lengthAdjust="spacing" >e&#8217;d&#8217;c&#8217;b&#8217;e&#8217;d&#8217;c&#8217;b&#8217;a&#8217;</text>
<text x="806.2" y="410" font-size="12" fill="#c00000" font-family="'Liberation Sans', sans-serif" textLength="24" lengthAdjust="spacing" >x y z</text>
<line x1="547.5" y1="436.5" x2="980.8" y2="437.1" stroke="#000" stroke-width="1.6"/>
<line x1="548.2" y1="436.6" x2="548.2" y2="453" stroke="#000" stroke-width="1.3"/>
<text x="548.2" y="470.8" font-size="12.5" fill="#000" font-family="'Liberation Sans', sans-serif" text-anchor="middle" >0</text>
<line x1="584.5" y1="436.6" x2="584.5" y2="453" stroke="#000" stroke-width="1.3"/>
<text x="584.5" y="470.8" font-size="12.5" fill="#000" font-family="'Liberation Sans', sans-serif" text-anchor="middle" >1</text>
<line x1="619.4" y1="436.6" x2="619.4" y2="453" stroke="#000" stroke-width="1.3"/>
<text x="619.4" y="470.8" font-size="12.5" fill="#000" font-family="'Liberation Sans', sans-serif" text-anchor="middle" >2</text>
<line x1="655.4" y1="436.6" x2="655.4" y2="453" stroke="#000" stroke-width="1.3"/>
<text x="655.4" y="470.8" font-size="12.5" fill="#000" font-family="'Liberation Sans', sans-serif" text-anchor="middle" >3</text>
<line x1="692.5" y1="436.6" x2="692.5" y2="453" stroke="#000" stroke-width="1.3"/>
<text x="692.5" y="470.8" font-size="12.5" fill="#000" font-family="'Liberation Sans', sans-serif" text-anchor="middle" >4</text>
<line x1="728.3" y1="436.6" x2="728.3" y2="453" stroke="#000" stroke-width="1.3"/>
<text x="728.3" y="470.8" font-size="12.5" fill="#000" font-family="'Liberation Sans', sans-serif" text-anchor="middle" >5</text>
<line x1="763.5" y1="436.6" x2="763.5" y2="453" stroke="#000" stroke-width="1.3"/>
<text x="763.5" y="470.8" font-size="12.5" fill="#000" font-family="'Liberation Sans', sans-serif" text-anchor="middle" >6</text>
<line x1="799.2" y1="436.6" x2="799.2" y2="453" stroke="#000" stroke-width="1.3"/>
<text x="799.2" y="470.8" font-size="12.5" fill="#000" font-family="'Liberation Sans', sans-serif" text-anchor="middle" >7</text>
<line x1="835.3" y1="436.6" x2="835.3" y2="453" stroke="#000" stroke-width="1.3"/>
<text x="835.3" y="470.8" font-size="12.5" fill="#000" font-family="'Liberation Sans', sans-serif" text-anchor="middle" >8</text>
<line x1="871.2" y1="436.6" x2="871.2" y2="453" stroke="#000" stroke-width="1.3"/>
<text x="871.2" y="470.8" font-size="12.5" fill="#000" font-family="'Liberation Sans', sans-serif" text-anchor="middle" >9</text>
<line x1="906.2" y1="436.6" x2="906.2" y2="453" stroke="#000" stroke-width="1.3"/>
<text x="906.2" y="470.8" font-size="12.5" fill="#000" font-family="'Liberation Sans', sans-serif" text-anchor="middle" >10</text>
<line x1="943.5" y1="436.6" x2="943.5" y2="453" stroke="#000" stroke-width="1.3"/>
<text x="943.5" y="470.8" font-size="12.5" fill="#000" font-family="'Liberation Sans', sans-serif" text-anchor="middle" >11</text>
<line x1="980.2" y1="436.6" x2="980.2" y2="453" stroke="#000" stroke-width="1.3"/>
<text x="980.2" y="470.8" font-size="12.5" fill="#000" font-family="'Liberation Sans', sans-serif" text-anchor="middle" >12</text>
<rect x="8.5" y="497" width="978.4" height="215.4" fill="none" stroke="#41709e" stroke-width="1.7"/>
<text x="19.8" y="518.2" font-size="22.5" fill="#000" font-family="'Liberation Sans', sans-serif" textLength="21" lengthAdjust="spacingAndGlyphs" >C)</text>
<g transform="translate(55.6,502.4) scale(0.5000)">
<polygon points="7.85,7.8 11.75,9.6 4.05,27 -0.05,27" fill="#000"/>
<path d="M1.6,5.6 C1.5,2.0 3.5,0.9 5.2,0.9 C7.6,0.9 9.0,3.5 9.9,7.2 L12.1,19.0 C12.8,23.4 14.2,26 16.0,26 C17.7,26 18.6,24.3 19.0,22" fill="none" stroke="#000" stroke-width="2.2" stroke-linecap="round"/>
</g>
<g transform="translate(951.3,502.6) scale(0.5000)">
<polygon points="7.85,7.8 11.75,9.6 4.05,27 -0.05,27" fill="#000"/>
<path d="M1.6,5.6 C1.5,2.0 3.5,0.9 5.2,0.9 C7.6,0.9 9.0,3.5 9.9,7.2 L12.1,19.0 C12.8,23.4 14.2,26 16.0,26 C17.7,26 18.6,24.3 19.0,22" fill="none" stroke="#000" stroke-width="2.2" stroke-linecap="round"/>
</g>
<text x="101.5" y="515" font-size="16.5" fill="#000" font-family="'Liberation Sans', sans-serif" textLength="21.5" lengthAdjust="spacingAndGlyphs" >DR</text>
<text x="892.8" y="515" font-size="16.5" fill="#000" font-family="'Liberation Sans', sans-serif" textLength="21.5" lengthAdjust="spacingAndGlyphs" >DR</text>
<line x1="475.5" y1="508.6" x2="150.3" y2="508.6" stroke="#5b9bd5" stroke-width="1.5"/>
<polygon points="142.8,508.6 151.3,504.6 151.3,512.6" fill="#5b9bd5"/>
<line x1="543.2" y1="508" x2="859.6" y2="508" stroke="#5b9bd5" stroke-width="1.5"/>
<polygon points="867.1,508 858.6,512 858.6,504" fill="#5b9bd5"/>
<text x="486" y="515" font-size="17.5" font-family="'Liberation Sans', sans-serif" fill="#000" textLength="38" lengthAdjust="spacingAndGlyphs">Tn<tspan font-style="italic">10</tspan></text>
<text x="81.2" y="539.8" font-size="11" font-family="'Liberation Mono', monospace" xml:space="preserve"><tspan fill="#606060">TGCTCAGGG CTGATGAATCCCC </tspan><tspan fill="#606060" font-style="italic">TAATGATTTT</tspan><tspan fill="#606060"> </tspan><tspan fill="#c00000" font-weight="bold">TATC</tspan><tspan fill="#606060"> </tspan><tspan fill="#606060" font-style="italic">AAAATCATTA</tspan><tspan fill="#606060"> AGTTAAGGTGGA</tspan><tspan fill="#606060">    </tspan><tspan fill="#606060">TCCACCTTAACT </tspan><tspan fill="#606060" font-style="italic">TAATGATTTT</tspan><tspan fill="#606060"> </tspan><tspan fill="#538135" font-weight="bold">TACC</tspan><tspan fill="#606060"> </tspan><tspan fill="#606060" font-style="italic">AAAATCATTA</tspan><tspan fill="#606060"> GGGGATTCATCAG TGCTCAGGG</tspan></text>
<text x="81.2" y="552.9" font-size="11" font-family="'Liberation Mono', monospace" xml:space="preserve"><tspan fill="#606060">ACGAGTCCC GACTACTTAGGGG </tspan><tspan fill="#606060" font-style="italic">ATTACTAAAA</tspan><tspan fill="#606060"> </tspan><tspan fill="#c00000" font-weight="bold">ATAG</tspan><tspan fill="#606060"> </tspan><tspan fill="#606060" font-style="italic">TTTTAGTAAT</tspan><tspan fill="#606060"> TCAATTCCACCT</tspan><tspan fill="#606060">    </tspan><tspan fill="#606060">AGGTGGAATTGA </tspan><tspan fill="#606060" font-style="italic">ATTACTAAAA</tspan><tspan fill="#606060"> </tspan><tspan fill="#538135" font-weight="bold">ATGG</tspan><tspan fill="#606060"> </tspan><tspan fill="#606060" font-style="italic">TTTTAGTAAT</tspan><tspan fill="#606060"> CCCCTAAGTAGTC ACGAGTCCC</tspan></text>
<rect x="497.1" y="533.4" width="3.3" height="3.3" fill="#000"/>
<rect x="497.1" y="550.3" width="3.3" height="3.3" fill="#000"/>
<rect x="503.5" y="533.4" width="3.3" height="3.3" fill="#000"/>
<rect x="503.5" y="550.3" width="3.3" height="3.3" fill="#000"/>
<rect x="509.9" y="533.4" width="3.3" height="3.3" fill="#000"/>
<rect x="509.9" y="550.3" width="3.3" height="3.3" fill="#000"/>
<rect x="516.3" y="533.4" width="3.3" height="3.3" fill="#000"/>
<rect x="516.3" y="550.3" width="3.3" height="3.3" fill="#000"/>
<rect x="79.1" y="531" width="63.4" height="24.8" fill="none" stroke="#41709e" stroke-width="1.3"/>
<rect x="876.4" y="531" width="63.2" height="24.8" fill="none" stroke="#41709e" stroke-width="1.3"/>
<line x1="43.6" y1="536.9" x2="78.5" y2="536.9" stroke="#5b9bd5" stroke-width="3" stroke-dasharray="3.2 3.2"/>
<line x1="43.6" y1="550.2" x2="78.5" y2="550.2" stroke="#5b9bd5" stroke-width="3" stroke-dasharray="3.2 3.2"/>
<line x1="940.5" y1="536.9" x2="971.6" y2="536.9" stroke="#5b9bd5" stroke-width="3" stroke-dasharray="3.2 3.2"/>
<line x1="940.5" y1="550.2" x2="971.6" y2="550.2" stroke="#5b9bd5" stroke-width="3" stroke-dasharray="3.2 3.2"/>
<line x1="304.4" y1="526" x2="244.2" y2="526" stroke="#5b9bd5" stroke-width="2.6"/>
<polygon points="237.2,526 245.2,522.1 245.2,529.9" fill="#5b9bd5"/>
<line x1="345.5" y1="557.8" x2="406.1" y2="557.8" stroke="#5b9bd5" stroke-width="2.6"/>
<polygon points="413.1,557.8 405.1,561.7 405.1,553.9" fill="#5b9bd5"/>
<line x1="674.2" y1="527.4" x2="613.6" y2="527.4" stroke="#5b9bd5" stroke-width="2.6"/>
<polygon points="606.6,527.4 614.6,523.5 614.6,531.3" fill="#5b9bd5"/>
<line x1="714.4" y1="558.2" x2="775.2" y2="558.2" stroke="#5b9bd5" stroke-width="2.6"/>
<polygon points="782.2,558.2 774.2,562.1 774.2,554.3" fill="#5b9bd5"/>
<line x1="314.3" y1="558.3" x2="496.02" y2="617.56" stroke="#5b9bd5" stroke-width="1.5"/>
<polygon points="504.1,620.2 493.77,621.25 496.37,613.26" fill="#5b9bd5"/>
<line x1="697.6" y1="557.7" x2="513.29" y2="617.38" stroke="#5b9bd5" stroke-width="1.5"/>
<polygon points="505.2,620 512.94,613.08 515.53,621.07" fill="#5b9bd5"/>
<text x="475.5" y="591.8" font-size="17.5" fill="#000" font-family="'Liberation Sans', sans-serif" textLength="66" lengthAdjust="spacingAndGlyphs" >Deletion</text>
<text x="255.6" y="635.5" font-size="11" font-family="'Liberation Mono', monospace" xml:space="preserve"><tspan fill="#606060">TGCTCAGGG CTGATGAATCCCC </tspan><tspan fill="#606060" font-style="italic">TAATGATTTT</tspan><tspan fill="#606060"> </tspan><tspan fill="#c00000" font-weight="bold">TATC</tspan><tspan fill="#606060"> </tspan><tspan fill="#606060" font-style="italic">AAAATCATTA</tspan><tspan fill="#606060"> GGGGATTCATCAG TGCTCAGGG</tspan></text>
<text x="255.6" y="648.9" font-size="11" font-family="'Liberation Mono', monospace" xml:space="preserve"><tspan fill="#606060">ACGAGTCCC GACTACTTAGGGG </tspan><tspan fill="#606060" font-style="italic">ATTACTAAAA</tspan><tspan fill="#606060"> </tspan><tspan fill="#c00000" font-weight="bold">ATAG</tspan><tspan fill="#606060"> </tspan><tspan fill="#606060" font-style="italic">TTTTAGTAAT</tspan><tspan fill="#606060"> CCCCTAAGTAGTC ACGAGTCCC</tspan></text>
<text x="255.6" y="686.2" font-size="11" font-family="'Liberation Mono', monospace" xml:space="preserve"><tspan fill="#606060">TGCTCAGGG CTGATGAATCCCC </tspan><tspan fill="#606060" font-style="italic">TAATGATTTT</tspan><tspan fill="#606060"> </tspan><tspan fill="#538135" font-weight="bold">TACC</tspan><tspan fill="#606060"> </tspan><tspan fill="#606060" font-style="italic">AAAATCATTA</tspan><tspan fill="#606060"> GGGGATTCATCAG TGCTCAGGG</tspan></text>
<text x="255.6" y="699.3" font-size="11" font-family="'Liberation Mono', monospace" xml:space="preserve"><tspan fill="#606060">ACGAGTCCC GACTACTTAGGGG </tspan><tspan fill="#606060" font-style="italic">ATTACTAAAA</tspan><tspan fill="#606060"> </tspan><tspan fill="#538135" font-weight="bold">ATGG</tspan><tspan fill="#606060"> </tspan><tspan fill="#606060" font-style="italic">TTTTAGTAAT</tspan><tspan fill="#606060"> CCCCTAAGTAGTC ACGAGTCCC</tspan></text>
<rect x="252.9" y="625.4" width="63.5" height="24.8" fill="none" stroke="#41709e" stroke-width="1.3"/>
<rect x="681.9" y="625.4" width="63.5" height="24.8" fill="none" stroke="#41709e" stroke-width="1.3"/>
<rect x="252.9" y="675.8" width="63.5" height="25.1" fill="none" stroke="#41709e" stroke-width="1.3"/>
<rect x="681.9" y="675.8" width="63.5" height="25.1" fill="none" stroke="#41709e" stroke-width="1.3"/>
<line x1="219.3" y1="631.8" x2="250.8" y2="631.8" stroke="#5b9bd5" stroke-width="3" stroke-dasharray="3.2 3.2"/>
<line x1="219.3" y1="644.9" x2="250.8" y2="644.9" stroke="#5b9bd5" stroke-width="3" stroke-dasharray="3.2 3.2"/>
<line x1="746.5" y1="631.8" x2="779" y2="631.8" stroke="#5b9bd5" stroke-width="3" stroke-dasharray="3.2 3.2"/>
<line x1="746.5" y1="644.9" x2="779" y2="644.9" stroke="#5b9bd5" stroke-width="3" stroke-dasharray="3.2 3.2"/>
<line x1="219.3" y1="682.5" x2="250.8" y2="682.5" stroke="#5b9bd5" stroke-width="3" stroke-dasharray="3.2 3.2"/>
<line x1="219.3" y1="695.3" x2="250.8" y2="695.3" stroke="#5b9bd5" stroke-width="3" stroke-dasharray="3.2 3.2"/>
<line x1="746.5" y1="682.5" x2="779" y2="682.5" stroke="#5b9bd5" stroke-width="3" stroke-dasharray="3.2 3.2"/>
<line x1="746.5" y1="695.3" x2="779" y2="695.3" stroke="#5b9bd5" stroke-width="3" stroke-dasharray="3.2 3.2"/>
<line x1="476" y1="621.3" x2="415" y2="621.3" stroke="#5b9bd5" stroke-width="2.6"/>
<polygon points="408,621.3 416,617.4 416,625.2" fill="#5b9bd5"/>
<line x1="518" y1="654" x2="578.6" y2="654" stroke="#5b9bd5" stroke-width="2.6"/>
<polygon points="585.6,654 577.6,657.9 577.6,650.1" fill="#5b9bd5"/>
<line x1="476" y1="672" x2="415" y2="672" stroke="#5b9bd5" stroke-width="2.6"/>
<polygon points="408,672 416,668.1 416,675.9" fill="#5b9bd5"/>
<line x1="518" y1="704.5" x2="578.6" y2="704.5" stroke="#5b9bd5" stroke-width="2.6"/>
<polygon points="585.6,704.5 577.6,708.4 577.6,700.6" fill="#5b9bd5"/>
<text x="689.5" y="737.4" font-size="15.5" font-family="'Liberation Sans', sans-serif" fill="#2e75b6" textLength="301.5" lengthAdjust="spacingAndGlyphs">Redrawn from Ross et al 1979 PMID: <tspan fill="#1f4e79" text-decoration="underline">455446</tspan></text>
</svg>
</body></html>
